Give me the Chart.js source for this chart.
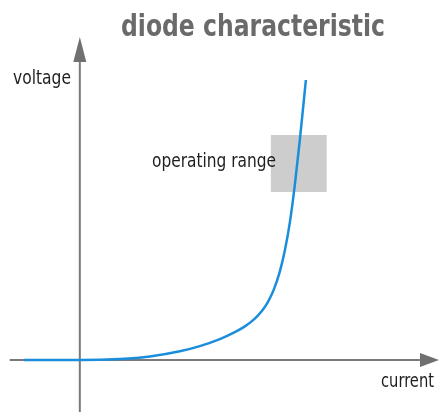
<!DOCTYPE html>
<html>
<head>
<meta charset="utf-8">
<script src="https://cdn.jsdelivr.net/npm/chart.js@4/dist/chart.umd.min.js"></script>
<style>
  html, body { margin: 0; padding: 0; background: #fff; }
  #wrap { width: 439px; height: 412px; }
</style>
</head>
<body>
<div id="wrap"><canvas id="diodeChart" width="439" height="412"></canvas></div>
<script>
// curve samples: current (x) vs voltage (y)
const currentVals = [-0.98, 0, 0.702, 1.228, 1.754, 2.105, 2.456, 2.719, 2.895, 3.070, 3.193, 3.298, 3.404, 3.509, 3.596, 3.684, 3.772, 3.860, 3.965];
const voltageVals = [0, 0, 0.010, 0.035, 0.087, 0.139, 0.209, 0.278, 0.336, 0.414, 0.489, 0.579, 0.706, 0.886, 1.094, 1.376, 1.754, 2.206, 2.80];

// operating range box
const rangeCurrent = [3.35, 4.33];
const rangeVoltage = [1.68, 2.25];

const titleText = "diode characteristic";
const yAxisLabel = "voltage";
const xAxisLabel = "current";
const rangeLabel = "operating range";

const points = currentVals.map((c, i) => ({ x: c, y: voltageVals[i] }));

// gray operating box, drawn under the curve
const rangeBox = {
  id: "rangeBox",
  beforeDatasetsDraw(chart) {
    const { ctx, scales: { x, y } } = chart;
    const x0 = x.getPixelForValue(rangeCurrent[0]);
    const x1 = x.getPixelForValue(rangeCurrent[1]);
    const y0 = y.getPixelForValue(rangeVoltage[1]);
    const y1 = y.getPixelForValue(rangeVoltage[0]);
    ctx.save();
    ctx.fillStyle = "#cdcdcd";
    ctx.fillRect(x0, y0, x1 - x0, y1 - y0);
    ctx.restore();
  }
};

// arrowed axes through the origin
const arrowAxes = {
  id: "arrowAxes",
  beforeDatasetsDraw(chart) {
    const { ctx, scales: { x, y } } = chart;
    const ox = x.getPixelForValue(0);
    const oy = y.getPixelForValue(0);
    const xLeft = x.getPixelForValue(-1.23);
    const xTip = x.getPixelForValue(6.3);
    const yBottom = y.getPixelForValue(-0.52);
    const yTip = y.getPixelForValue(3.23);
    ctx.save();
    ctx.strokeStyle = "#7a7a7a";
    ctx.fillStyle = "#707070";
    ctx.lineWidth = 2;
    ctx.beginPath();
    ctx.moveTo(xLeft, oy);
    ctx.lineTo(xTip - 16, oy);
    ctx.moveTo(ox, yBottom);
    ctx.lineTo(ox, yTip + 20);
    ctx.stroke();
    ctx.beginPath();
    ctx.moveTo(xTip, oy);
    ctx.lineTo(xTip - 19, oy - 7);
    ctx.lineTo(xTip - 19, oy + 7);
    ctx.closePath();
    ctx.moveTo(ox, yTip);
    ctx.lineTo(ox - 6.5, yTip + 25);
    ctx.lineTo(ox + 6.5, yTip + 25);
    ctx.closePath();
    ctx.fill();
    ctx.restore();
  },
  afterDraw(chart) {
    const { ctx } = chart;
    ctx.save();
    ctx.textBaseline = "alphabetic";
    ctx.textAlign = "left";
    ctx.fillStyle = "#6a6a6a";
    ctx.font = "bold 30px 'DejaVu Sans Condensed', 'Liberation Sans Narrow', sans-serif";
    ctx.fillText(titleText, 121, 36, 264);
    ctx.fillStyle = "#1e1e1e";
    ctx.font = "20px 'DejaVu Sans Condensed', 'Liberation Sans Narrow', sans-serif";
    ctx.fillText(yAxisLabel, 13, 84, 58);
    ctx.fillText(xAxisLabel, 381, 387, 53);
    ctx.font = "19px 'DejaVu Sans Condensed', 'Liberation Sans Narrow', sans-serif";
    ctx.fillText(rangeLabel, 152, 167, 124);
    ctx.restore();
  }
};

new Chart(document.getElementById("diodeChart").getContext("2d"), {
  type: "scatter",
  data: {
    datasets: [{
      label: "diode",
      data: points,
      showLine: true,
      borderColor: "#1a8ddc",
      borderWidth: 2.5,
      pointRadius: 0,
      cubicInterpolationMode: "monotone",
      fill: false
    }]
  },
  options: {
    responsive: false,
    animation: false,
    layout: { padding: 0 },
    plugins: { legend: { display: false }, tooltip: { enabled: false } },
    scales: {
      x: { type: "linear", display: false, min: -1.4, max: 6.3 },
      y: { type: "linear", display: false, min: -0.52, max: 3.6 }
    }
  },
  plugins: [rangeBox, arrowAxes]
});
</script>
</body>
</html>
